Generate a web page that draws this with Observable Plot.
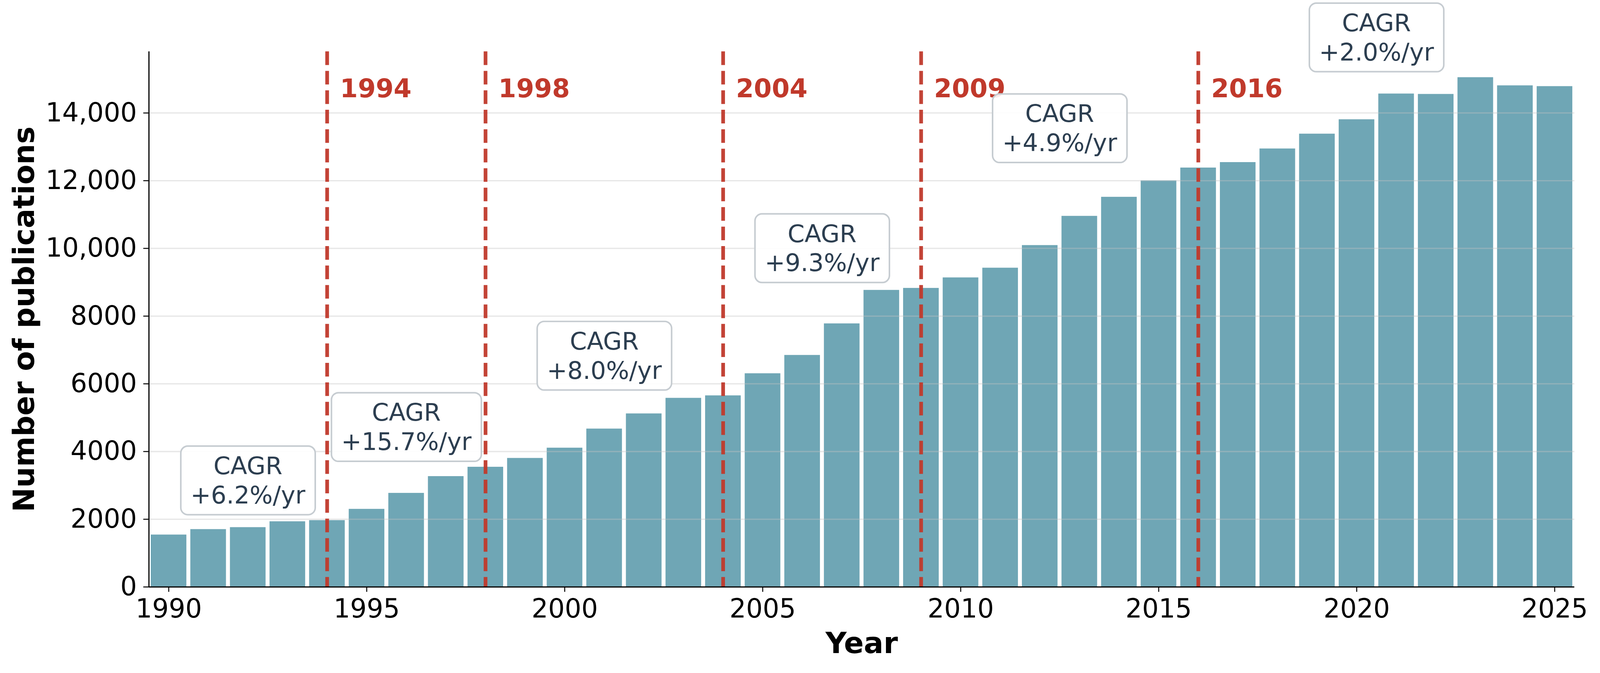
<!DOCTYPE html>
<html>
<head>
<meta charset="utf-8">
<script src="https://cdn.jsdelivr.net/npm/d3@7"></script>
<script src="https://cdn.jsdelivr.net/npm/@observablehq/plot@0.6"></script>
<style>
  html, body { margin: 0; padding: 0; background: #ffffff; }
  svg { display: block; }
</style>
</head>
<body>
<div id="chart"></div>
<script>
// ---- data ----
const years = [1990,1991,1992,1993,1994,1995,1996,1997,1998,1999,
               2000,2001,2002,2003,2004,2005,2006,2007,2008,2009,
               2010,2011,2012,2013,2014,2015,2016,2017,2018,2019,
               2020,2021,2022,2023,2024,2025];
const publications = [1542,1703,1761,1934,1968,2301,2773,3268,3544,3805,
                      4108,4672,5120,5580,5653,6306,6847,7779,8768,8827,
                      9137,9424,10092,10955,11518,12002,12382,12543,12945,13383,
                      13808,14568,14556,15051,14810,14787];
const breakYears = [1994, 1998, 2004, 2009, 2016];
const cagrLabels = ["CAGR\n+6.2%/yr", "CAGR\n+15.7%/yr", "CAGR\n+8.0%/yr",
                    "CAGR\n+9.3%/yr", "CAGR\n+4.9%/yr", "CAGR\n+2.0%/yr"];
const cagrYear = [1992, 1996, 2001, 2006.5, 2012.5, 2020.5];
const cagrValue = [3176, 4752, 6858, 10034, 13578, 16260];
const xDomain = [1989.5, 2025.5];
const yMax = 15813;
const xTicks = [1990, 1995, 2000, 2005, 2010, 2015, 2020, 2025];
const yTicks = [0, 2000, 4000, 6000, 8000, 10000, 12000, 14000];

const bars = years.map((year, i) => ({year, value: publications[i]}));
const cagr = cagrLabels.map((label, i) => ({label, x: cagrYear[i], y: cagrValue[i]}));

const FONT = "DejaVu Sans";
const RED = "#c0392b";
const yFmt = d => d >= 10000 ? d3.format(",")(d) : String(d);

const chart = Plot.plot({
  width: 4109,
  height: 1723,
  marginLeft: 382,
  marginRight: 66,
  marginTop: 132,
  marginBottom: 216,
  style: {fontFamily: FONT, fontSize: "67px", color: "#000", background: "#fff"},
  x: {type: "linear", domain: xDomain},
  y: {type: "linear", domain: [0, yMax]},
  marks: [
    Plot.rectY(bars, {
      x1: d => d.year - 0.45,
      x2: d => d.year + 0.45,
      y: "value",
      fill: "#6fa6b5"
    }),
    Plot.gridY({ticks: yTicks, stroke: "#c4c4c4", strokeOpacity: 0.4, strokeWidth: 3.3}),
    Plot.ruleX(breakYears, {x: d => d, stroke: RED, strokeWidth: 9.5, strokeDasharray: "35,15", strokeOpacity: 0.95}),
    Plot.text(breakYears, {
      x: d => d,
      y: () => yMax * 0.93,
      text: d => String(d),
      textAnchor: "start",
      lineAnchor: "middle",
      dx: 33,
      fill: RED,
      fontWeight: "bold",
      fontSize: 66,
      fontFamily: FONT
    }),
    Plot.ruleY([0], {stroke: "#000", strokeWidth: 3}),
    Plot.ruleX([xDomain[0]], {stroke: "#000", strokeWidth: 3}),
    Plot.axisX({
      ticks: xTicks,
      tickFormat: d => String(d),
      tickSize: 13,
      tickPadding: 18,
      strokeWidth: 2.5,
      fontSize: 67,
      label: null
    }),
    Plot.axisY({
      ticks: yTicks,
      tickFormat: yFmt,
      tickSize: 14,
      tickPadding: 17,
      strokeWidth: 2.5,
      fontSize: 67,
      label: null
    }),
    Plot.text(["Year"], {
      frameAnchor: "bottom",
      lineAnchor: "bottom",
      textAnchor: "middle",
      dy: 170,
      fontWeight: "bold",
      fontSize: 75,
      fontFamily: FONT,
      fill: "#000"
    }),
    Plot.text(["Number of publications"], {
      frameAnchor: "left",
      lineAnchor: "bottom",
      textAnchor: "middle",
      rotate: -90,
      dx: -295,
      fontWeight: "bold",
      fontSize: 75,
      fontFamily: FONT,
      fill: "#000"
    }),
    Plot.text(cagr, {
      x: "x",
      y: "y",
      text: "label",
      textAnchor: "middle",
      lineAnchor: "middle",
      lineHeight: 1.2,
      fill: "#2c3e50",
      fontSize: 62.5,
      fontFamily: FONT
    })
  ]
});

document.getElementById("chart").appendChild(chart);

// rounded boxes behind CAGR labels
const ns = "http://www.w3.org/2000/svg";
Array.from(chart.querySelectorAll("text"))
  .filter(t => t.textContent.startsWith("CAGR"))
  .forEach(t => {
    const b = t.getBBox();
    const r = document.createElementNS(ns, "rect");
    const padX = 25, padY = 14;
    r.setAttribute("x", b.x - padX);
    r.setAttribute("y", b.y - padY);
    r.setAttribute("width", b.width + 2 * padX);
    r.setAttribute("height", b.height + 2 * padY);
    r.setAttribute("rx", 18);
    r.setAttribute("ry", 18);
    r.setAttribute("fill", "#ffffff");
    r.setAttribute("fill-opacity", 0.9);
    r.setAttribute("stroke", "#c6ccd1");
    r.setAttribute("stroke-width", 4);
    const tr = t.getAttribute("transform");
    if (tr) r.setAttribute("transform", tr);
    t.parentNode.insertBefore(r, t);
  });
</script>
</body>
</html>
